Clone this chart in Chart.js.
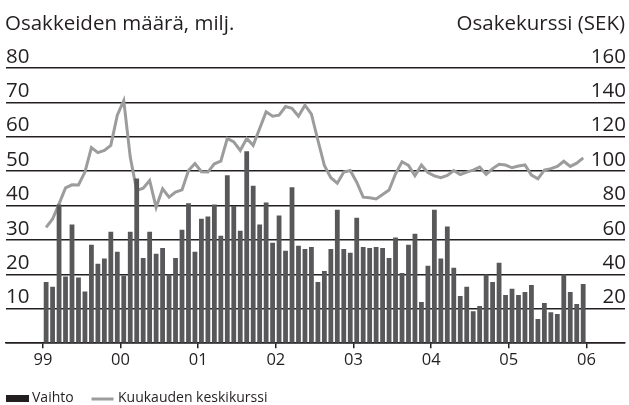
<!DOCTYPE html>
<html>
<head>
<meta charset="utf-8">
<script src="https://cdn.jsdelivr.net/npm/chart.js@4/dist/chart.umd.min.js"></script>
<style>
html,body{margin:0;padding:0;background:#fff;}
#wrap{position:relative;width:629px;height:405px;}
</style>
</head>
<body>
<div id="wrap"><canvas id="c" width="629" height="405"></canvas></div>
<script>
// Monthly data Jan 1999 – Dec 2005
const yearLabels = ['99', '00', '01', '02', '03', '04', '05', '06'];
const volumeLabel = 'Vaihto';
const priceLabel = 'Kuukauden keskikurssi';
const leftTitle = 'Osakkeiden määrä, milj.';
const rightTitle = 'Osakekurssi (SEK)';

// Share volume, millions (left axis)
const volume = [
  17.8, 16.4, 40.3, 19.4, 34.5, 19.1, 15.0, 28.6, 23.1, 24.6, 32.4, 26.6,
  19.6, 32.4, 47.9, 24.8, 32.4, 26.0, 27.7, 20.0, 24.8, 33.0, 40.7, 26.6,
  36.2, 36.8, 40.3, 31.2, 48.8, 39.9, 32.7, 55.8, 45.8, 34.5, 40.9, 29.2,
  37.1, 26.9, 45.3, 28.3, 27.4, 28.0, 17.8, 21.0, 27.4, 38.8, 27.4, 26.3,
  36.5, 28.0, 27.7, 28.0, 27.7, 24.8, 30.7, 20.4, 28.6, 31.8, 12.0, 22.5,
  38.8, 24.6, 33.9, 21.9, 13.7, 16.4, 9.3, 10.8, 20.0, 17.8, 23.4, 14.0,
  15.8, 14.0, 14.9, 16.9, 7.0, 11.7, 9.0, 8.5, 20.0, 14.9, 11.4, 17.2
];

// Monthly average share price, SEK (right axis)
const price = [
  67.3, 72.2, 81.0, 90.3, 92.1, 92.0, 99.5, 113.7, 110.8, 112.1, 115.0, 132.6,
  141.0, 108.2, 88.8, 90.1, 94.6, 79.0, 89.8, 84.9, 87.8, 89.1, 100.4, 104.5,
  99.7, 99.5, 104.3, 105.8, 119.0, 117.0, 112.1, 119.0, 115.0, 124.8, 134.5, 132.0,
  132.6, 137.6, 136.5, 132.0, 138.4, 133.2, 118.0, 103.4, 96.2, 93.0, 99.5, 100.4,
  93.6, 84.9, 84.5, 83.9, 86.4, 89.1, 98.5, 105.5, 103.4, 97.4, 103.6, 99.2,
  97.3, 96.2, 97.5, 100.4, 98.1, 99.5, 100.6, 102.4, 98.1, 101.5, 104.0, 103.6,
  102.0, 103.0, 103.6, 97.7, 95.6, 100.7, 101.5, 102.8, 105.8, 102.8, 104.7, 107.8
];

const FONT = "'Open Sans', sans-serif";
const INK = '#231f20';
const BAR = '#58585a';
const LINE = '#9c9c9c';

const volumePoints = volume.map((v, i) => ({ x: i + 0.5, y: v }));
const pricePoints = price.map((v, i) => ({ x: i + 0.5, y: v }));
const yearTicks = yearLabels.map((_, i) => i * 12);

const textPlugin = {
  id: 'texts',
  afterDraw(chart) {
    const ctx = chart.ctx;
    ctx.save();
    ctx.fillStyle = INK;
    ctx.textBaseline = 'alphabetic';
    ctx.font = '20.5px ' + FONT;
    ctx.textAlign = 'left';
    ctx.fillText(leftTitle, 5, 30);
    ctx.textAlign = 'right';
    ctx.fillText(rightTitle, 625, 30);
    // legend
    ctx.fillStyle = INK;
    ctx.fillRect(6, 395, 23, 7);
    ctx.font = '14px ' + FONT;
    ctx.textAlign = 'left';
    ctx.fillText(volumeLabel, 32, 402);
    ctx.strokeStyle = LINE;
    ctx.lineWidth = 3;
    ctx.beginPath();
    ctx.moveTo(91.5, 399);
    ctx.lineTo(113.5, 399);
    ctx.stroke();
    ctx.fillStyle = INK;
    ctx.fillText(priceLabel, 118, 402);
    ctx.restore();
  }
};

new Chart(document.getElementById('c'), {
  type: 'bar',
  data: {
    datasets: [
      {
        type: 'bar',
        label: volumeLabel,
        data: volumePoints,
        backgroundColor: BAR,
        borderWidth: 0,
        categoryPercentage: 1,
        barPercentage: 0.74,
        yAxisID: 'y',
        order: 0
      },
      {
        type: 'line',
        label: priceLabel,
        data: pricePoints,
        borderColor: LINE,
        borderWidth: 3,
        pointRadius: 0,
        tension: 0,
        fill: false,
        yAxisID: 'y1',
        order: 1
      }
    ]
  },
  options: {
    responsive: false,
    animation: false,
    layout: { padding: { left: 6, right: 2, top: 68, bottom: 33 } },
    plugins: { legend: { display: false }, tooltip: { enabled: false }, title: { display: false } },
    scales: {
      x: {
        type: 'linear',
        offset: false,
        min: -5.70,
        max: 89.96,
        afterBuildTicks: (s) => { s.ticks = yearTicks.map(v => ({ value: v })); },
        grid: { display: true, offset: false, drawOnChartArea: false, drawTicks: true, tickLength: 5, color: INK, lineWidth: 1.5 },
        border: { display: true, color: INK, width: 1.5 },
        ticks: {
          autoSkip: false,
          maxRotation: 0,
          padding: 2,
          color: INK,
          font: { family: FONT, size: 16.5 },
          callback: (v) => yearLabels[Math.round(v / 12)]
        }
      },
      y: {
        position: 'left',
        min: 0,
        max: 80,
        grid: { color: INK, lineWidth: 1.5, drawTicks: false },
        border: { display: false },
        ticks: {
          stepSize: 10,
          mirror: true,
          padding: 0,
          labelOffset: -11.3,
          color: INK,
          font: { family: FONT, size: 20.5 },
          callback: (v) => (v === 0 ? '' : String(v))
        }
      },
      y1: {
        position: 'right',
        min: 0,
        max: 160,
        grid: { display: false, drawTicks: false },
        border: { display: false },
        ticks: {
          stepSize: 20,
          mirror: true,
          padding: 1,
          labelOffset: -11.3,
          color: INK,
          font: { family: FONT, size: 20.5 },
          callback: (v) => (v === 0 ? '' : String(v))
        }
      }
    }
  },
  plugins: [textPlugin]
});
</script>
</body>
</html>
